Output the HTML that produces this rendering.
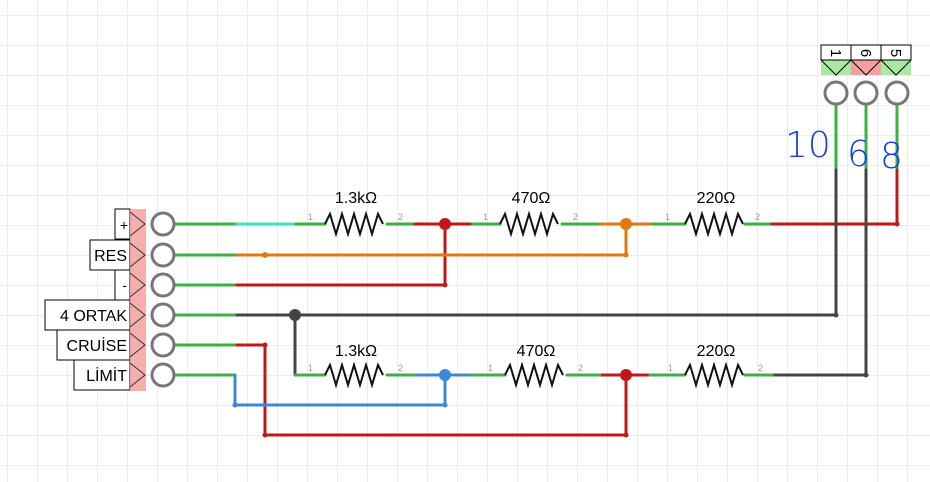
<!DOCTYPE html>
<html><head><style>
body{margin:0;width:930px;height:482px;overflow:hidden;background:#fff;
background-image:linear-gradient(#ececec 1px,transparent 1px),linear-gradient(90deg,#ececec 1px,transparent 1px);
background-size:30px 30px;background-position:7px 15px;font-family:"Liberation Sans",sans-serif}
</style></head><body>
<svg width="930" height="482" style="position:absolute;left:0;top:0" font-family="Liberation Sans, DejaVu Sans, sans-serif">
<g fill="#fff" stroke="#000" stroke-width="1">
<rect x="115" y="209" width="15" height="30"/>
<rect x="90" y="240" width="40" height="30"/>
<rect x="115" y="270" width="15" height="30"/>
<rect x="45" y="300" width="85" height="30"/>
<rect x="57" y="330" width="73" height="30"/>
<rect x="74" y="360" width="56" height="30"/>
</g>
<rect x="130" y="209" width="16" height="182" fill="#f5a0a0" opacity="0.85"/>
<g fill="none" stroke="#333" stroke-width="1">
<path d="M130 212l15 12-15 12M130 243l15 12-15 12M130 273l15 12-15 12M130 303l15 12-15 12M130 333l15 12-15 12M130 363l15 12-15 12"/>
</g>
<g font-size="16" text-anchor="end" fill="#000">
<text x="128" y="230" font-size="14">+</text><text x="127" y="261">RES</text><text x="127" y="290" font-size="14">-</text>
<text x="127" y="321">4 ORTAK</text><text x="127" y="351">CRUİSE</text><text x="127" y="381">LİMİT</text>
</g>
<g fill="none" stroke-width="3" stroke-linecap="round">
<path d="M175 224H237M175 255H237M175 285H237M175 315H237M175 345H237M175 375H235" stroke="#3cb043"/>
<path d="M237 224H296" stroke="#40e0c0"/>
<path d="M296 224H325M387 224H415M470 224H500M562 224H600M650 224H685M745 224H772M897 170V105M836 170V105M866 170V105" stroke="#3cb043"/>
<path d="M415 224H470M445 224V285H237M772 224H897V170" stroke="#c01818"/>
<path d="M600 224H650M626 224V255H237" stroke="#e07a10"/>
<path d="M237 315H836V170M295 315V375" stroke="#444"/>
<path d="M237 345H265V435H626V375M600 375H650" stroke="#c01818"/>
<path d="M235 375V405H445V375M415 375H470" stroke="#3a88d8"/>
<path d="M295 375H325M387 375H415M470 375H505M567 375H600M650 375H685M745 375H775" stroke="#3cb043"/>
<path d="M775 375H866V170" stroke="#444"/>
</g>
<g fill="none" stroke="#111" stroke-width="2">
<path d="M325 224l5-10 6 20 6-20 6 20 6-20 6 20 6-20 6 20 6-20 5 10M500 224l5-10 6 20 6-20 6 20 6-20 6 20 6-20 6 20 6-20 5 10M685 224l5-10 6 20 6-20 6 20 6-20 6 20 6-20 6 20 6-20 5 10"/>
<path d="M325 375l5-10 6 20 6-20 6 20 6-20 6 20 6-20 6 20 6-20 5 10M505 375l5-10 6 20 6-20 6 20 6-20 6 20 6-20 6 20 6-20 5 10M685 375l5-10 6 20 6-20 6 20 6-20 6 20 6-20 6 20 6-20 5 10"/>
</g>
<g font-size="16" text-anchor="middle"><text x="356" y="203">1.3kΩ</text><text x="531" y="203">470Ω</text><text x="716" y="203">220Ω</text>
<text x="356" y="356">1.3kΩ</text><text x="536" y="356">470Ω</text><text x="716" y="356">220Ω</text></g>
<g font-size="9" fill="#999"><text x="308" y="220">1</text><text x="398" y="220">2</text><text x="483" y="220">1</text><text x="573" y="220">2</text><text x="665" y="220">1</text><text x="755" y="220">2</text>
<text x="308" y="371">1</text><text x="398" y="371">2</text><text x="488" y="371">1</text><text x="578" y="371">2</text><text x="668" y="371">1</text><text x="758" y="371">2</text></g>
<g fill="#c01818"><circle cx="445" cy="224" r="6"/><circle cx="626" cy="375" r="6"/><circle cx="897" cy="224" r="2.5"/><circle cx="445" cy="285" r="2.5"/><circle cx="265" cy="345" r="2.5"/><circle cx="265" cy="435" r="2.5"/><circle cx="626" cy="435" r="2.5"/></g>
<circle cx="626" cy="224" r="6" fill="#e07a10"/><circle cx="265" cy="255" r="3" fill="#e07a10"/><circle cx="626" cy="255" r="2.5" fill="#e07a10"/>
<circle cx="295" cy="315" r="6" fill="#444"/><circle cx="836" cy="315" r="2.5" fill="#444"/><circle cx="866" cy="375" r="2.5" fill="#444"/>
<circle cx="445" cy="375" r="6" fill="#3a88d8"/><circle cx="235" cy="405" r="2.5" fill="#3a88d8"/><circle cx="445" cy="405" r="2.5" fill="#3a88d8"/>
<g fill="#fff" stroke="#777" stroke-width="3"><circle cx="163" cy="224" r="11"/><circle cx="163" cy="255" r="11"/><circle cx="163" cy="285" r="11"/><circle cx="163" cy="315" r="11"/><circle cx="163" cy="345" r="11"/><circle cx="163" cy="375" r="11"/>
<circle cx="836" cy="93" r="11"/><circle cx="866" cy="93" r="11"/><circle cx="897" cy="93" r="11"/></g>
<rect x="821" y="60" width="30" height="15" fill="#a8e8a0"/><rect x="851" y="60" width="30" height="15" fill="#f5a0a0"/><rect x="881" y="60" width="30" height="15" fill="#a8e8a0"/>
<g fill="#fff" stroke="#000"><rect x="821" y="45" width="30" height="15"/><rect x="851" y="45" width="30" height="15"/><rect x="881" y="45" width="30" height="15"/></g>
<path d="M821 60l15 15 15-15M851 60l15 15 15-15M881 60l15 15 15-15" fill="none" stroke="#000"/>
<g font-size="15" text-anchor="middle"><text transform="translate(831,53) rotate(90)">1</text><text transform="translate(861,53) rotate(90)">6</text><text transform="translate(891,53) rotate(90)">5</text></g>
<g font-size="36" fill="#1040e0" font-family="DejaVu Sans, sans-serif" font-weight="200"><text x="785" y="157">10</text><text x="847" y="166">6</text><text x="880" y="168">8</text></g>
</svg>
</body></html>
